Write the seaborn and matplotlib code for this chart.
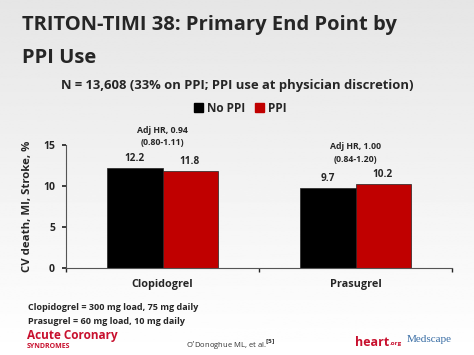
import numpy as np
import pandas as pd
import matplotlib
matplotlib.use("Agg")
import matplotlib.pyplot as plt
import seaborn as sns

# ---- data ----
drugs = ["Clopidogrel", "Prasugrel"]
groups = ["No PPI", "PPI"]
no_ppi = [12.2, 9.7]
ppi = [11.8, 10.2]
hr_text = ["Adj HR, 0.94\n(0.80-1.11)", "Adj HR, 1.00\n(0.84-1.20)"]
colors = ["#000000", "#c00000"]

df = pd.DataFrame({
    "drug": drugs * 2,
    "group": [groups[0]] * 2 + [groups[1]] * 2,
    "rate": no_ppi + ppi,
})

sns.set_theme(style="white")
plt.rcParams["font.family"] = ["Open Sans", "DejaVu Sans"]
plt.rcParams["font.weight"] = "bold"

fig = plt.figure(figsize=(4.74, 3.55), dpi=100)

# gray-to-white slide background
bg = fig.add_axes([0, 0, 1, 1], zorder=-1)
grad = np.linspace(0.90, 1.0, 256).reshape(-1, 1)
bg.imshow(grad, cmap="gray", vmin=0, vmax=1, aspect="auto", extent=[0, 1, 1, 0])
bg.axis("off")

ax = fig.add_axes([66 / 474, 1 - 268 / 355, (452 - 66) / 474, (268 - 145) / 355])
ax.patch.set_alpha(0)
sns.barplot(data=df, x="drug", y="rate", hue="group", hue_order=groups,
            palette=colors, width=0.57, saturation=1, ax=ax, legend=False,
            edgecolor="#222222", linewidth=0.5)

ax.set_xlim(-0.5, 1.5)
ax.set_ylim(0, 15)
ax.set_yticks([0, 5, 10, 15])
ax.set_xlabel("")
ax.set_ylabel("CV death, MI, Stroke, %", fontsize=8.2, fontweight="bold", labelpad=7)
ax.tick_params(axis="y", labelsize=7.5, length=3, direction="out", left=True, pad=5)
ax.tick_params(axis="x", labelsize=7.8, length=0, pad=8)
ax.set_xticks([-0.5, 0.5, 1.5], minor=True)
ax.tick_params(axis="x", which="minor", length=3, direction="out", bottom=True)
for lab in ax.get_xticklabels() + ax.get_yticklabels():
    lab.set_fontweight("bold")
for s in ["top", "right"]:
    ax.spines[s].set_visible(False)
for s in ["left", "bottom"]:
    ax.spines[s].set_color("#555555")
    ax.spines[s].set_linewidth(0.8)

for cont in ax.containers:
    ax.bar_label(cont, fmt="%.1f", padding=3, fontsize=7.2, fontweight="bold")

for i, txt in enumerate(hr_text):
    top = max(no_ppi[i], ppi[i])
    ax.annotate(txt, xy=(i, top), xytext=(0, 15), textcoords="offset points",
                ha="center", va="bottom", fontsize=6.3, fontweight="bold",
                linespacing=1.45)

# legend
handles = [plt.Rectangle((0, 0), 1, 1, color=c) for c in colors]
fig.legend(handles, groups, loc="center", bbox_to_anchor=(240 / 474, 1 - 108 / 355),
           ncol=2, frameon=False, handlelength=0.8, handleheight=0.8,
           columnspacing=0.8, handletextpad=0.3, prop={"weight": "bold", "size": 8.5})

# slide text
fig.text(22 / 474, 1 - 25 / 355, "TRITON-TIMI 38: Primary End Point by",
         fontsize=14.5, fontweight="bold", va="center", ha="left")
fig.text(22 / 474, 1 - 58 / 355, "PPI Use",
         fontsize=14.5, fontweight="bold", va="center", ha="left")
fig.text(237 / 474, 1 - 86 / 355,
         "N = 13,608 (33% on PPI; PPI use at physician discretion)",
         fontsize=9.4, fontweight="bold", va="center", ha="center")
fig.text(28 / 474, 1 - 308 / 355, "Clopidogrel = 300 mg load, 75 mg daily",
         fontsize=6.5, fontweight="bold", va="center", ha="left")
fig.text(28 / 474, 1 - 321 / 355, "Prasugrel = 60 mg load, 10 mg daily",
         fontsize=6.5, fontweight="bold", va="center", ha="left")
fig.text(231 / 474, 1 - 345 / 355, "O\u2019Donoghue ML, et al.$^{[5]}$",
         fontsize=5.5, fontweight="normal", va="center", ha="center", color="#333333")
fig.text(27 / 474, 1 - 336 / 355, "Acute Coronary", fontsize=8.5, fontweight="bold",
         color="#c8102e", va="center", ha="left")
fig.text(27 / 474, 1 - 347 / 355, "SYNDROMES", fontsize=5, fontweight="bold",
         color="#c8102e", va="center", ha="left")
fig.text(355 / 474, 1 - 342 / 355, "heart", fontsize=9, fontweight="bold",
         color="#c8102e", va="center", ha="left")
fig.text(390 / 474, 1 - 344 / 355, ".org", fontsize=4.5, color="#c8102e",
         va="center", ha="left")
fig.text(407 / 474, 1 - 340 / 355, "Medscape", fontsize=8, fontweight="normal",
         color="#3a6ea5", va="center", ha="left", family="Liberation Serif")

fig.savefig("out.png", dpi=100)
